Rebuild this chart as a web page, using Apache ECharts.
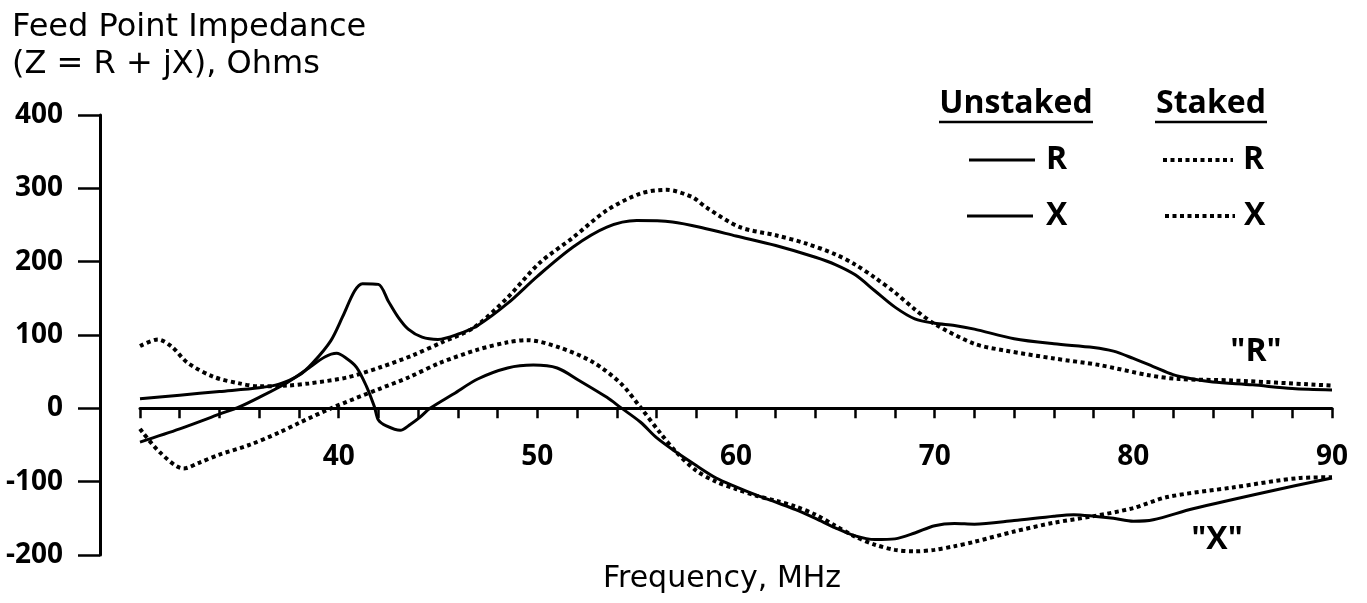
<!DOCTYPE html>
<html>
<head>
<meta charset="utf-8">
<script src="https://cdn.jsdelivr.net/npm/echarts@6/dist/echarts.min.js"></script>
<style>
  html, body { margin: 0; padding: 0; background: #fff; }
  #chart { width: 1367px; height: 603px; }
</style>
</head>
<body>
<div id="chart"></div>
<script>
// Feed point impedance (R and X) of the antenna, with and without ground stakes.
// Each series: [frequency MHz, ohms]
const unstakedR = [
  [30, 13], [32, 18], [34, 23], [36, 28], [37, 33], [38, 45], [38.7, 62], [39.6, 92],
  [40.2, 125], [40.8, 160], [41.2, 170], [42, 169], [42.5, 146], [43, 124], [43.5, 108],
  [44.2, 97], [45, 94], [46, 101], [47, 113], [48.5, 143], [50, 180], [51.8, 220],
  [53.5, 247], [55, 256], [56.8, 254], [58.5, 245], [60, 235], [62, 222], [64, 206],
  [65, 196], [66, 182], [67, 160], [68, 138], [69, 122], [70, 116], [71, 113], [72, 108],
  [74, 95], [76, 88], [78, 83], [79, 78], [80, 68], [81, 57], [82, 46], [83, 40],
  [84, 36], [86, 32], [88, 27], [90, 25]
];
const stakedR = [
  [30, 85], [30.9, 94], [31.6, 84], [32.4, 62], [33.7, 43], [35, 34], [36, 30], [37.4, 31],
  [38.5, 34], [40.4, 42], [42.1, 56], [43.7, 72], [45.2, 90], [46.8, 110], [48.5, 151],
  [50.1, 198], [51.8, 233], [53.5, 270], [55.2, 293], [56.5, 298], [57.8, 288], [58.5, 274],
  [60.2, 247], [62, 236], [63.5, 225], [65, 210], [66, 196], [67, 178], [68, 158],
  [69, 135], [70, 115], [72, 88], [73.5, 79], [76, 68], [78.3, 59], [80.8, 45], [82.3, 40],
  [85, 38], [90, 31]
];
const unstakedX = [
  [30, -46], [32, -28], [34, -8], [35, 2], [36, 15], [37.4, 35], [38.5, 55], [39.3, 70],
  [39.9, 75], [40.4, 68], [40.9, 56], [41.4, 30], [41.8, 2], [42, -16], [42.4, -24],
  [43.1, -30], [43.6, -22], [44.1, -12], [44.6, 0], [45.8, 20], [47, 40], [48.5, 55],
  [49.8, 59], [51, 55], [52.1, 38], [53.5, 15], [54.2, 1], [55.2, -19], [56, -40],
  [57, -60], [58, -78], [59, -95], [60, -107], [61, -118], [62, -128], [63, -138],
  [64, -150], [65, -163], [66, -174], [67, -179], [68, -178], [69, -170], [70, -160],
  [71, -157], [72, -158], [74, -153], [76, -147], [77, -145], [78, -147], [79, -150],
  [80, -154], [81, -152], [83, -137], [86.7, -114], [90, -95]
];
const stakedX = [
  [30, -28], [31, -60], [32.2, -82], [33, -74], [34, -63], [35.5, -50], [37, -33],
  [38, -20], [39.7, 1], [42, 26], [43.5, 42], [45.1, 62], [47, 80], [48.5, 90],
  [49.5, 93], [51.1, 83], [52.8, 63], [54.2, 34], [55.2, 1], [56.2, -34], [57, -60],
  [58, -85], [59, -100], [60, -110], [61, -119], [62, -126], [63, -134], [64, -145],
  [65, -160], [66, -175], [67, -186], [68, -193], [69, -195], [70, -193], [71, -188],
  [72, -182], [74, -168], [76, -156], [78, -147], [80, -136], [81.7, -121], [85, -108],
  [88.4, -95], [90, -94]
];
const xLabels = [40, 50, 60, 70, 80, 90];
const yTicks = [-200, -100, 0, 100, 200, 300, 400];

const INK = '#000';
const DOTS = [4, 3.5];
const labelFont = '"Open Sans", "Liberation Sans", sans-serif';
const plainFont = '"DejaVu Sans", sans-serif';

// plot area
const GRID = { left: 140, right: 35, top: 115, bottom: 48 };
const plotH = 603 - GRID.top - GRID.bottom;
const yMin = yTicks[0], yMax = yTicks[yTicks.length - 1];
// the frequency axis sits on the zero line
const zeroLift = plotH * (0 - yMin) / (yMax - yMin);

function curve(name, data, dotted) {
  return {
    name: name,
    type: 'line',
    data: data,
    smooth: 0.3,
    symbol: 'none',
    silent: true,
    lineStyle: {
      color: INK,
      width: dotted ? 4 : 3,
      type: dotted ? DOTS : 'solid',
      cap: 'butt'
    },
    z: dotted ? 3 : 4
  };
}

const chart = echarts.init(document.getElementById('chart'), null, { renderer: 'canvas' });

chart.setOption({
  backgroundColor: '#fff',
  animation: false,
  grid: Object.assign({ containLabel: false, outerBoundsMode: 'none' }, GRID),
  xAxis: {
    type: 'value',
    min: 30,
    max: 90,
    interval: 2,
    position: 'bottom',
    offset: -zeroLift,
    axisLine: { onZero: false, lineStyle: { color: INK, width: 3 } },
    axisTick: { show: true, length: 10, lineStyle: { color: INK, width: 2.5 } },
    axisLabel: {
      margin: 35,
      color: INK,
      fontFamily: labelFont,
      fontWeight: 700,
      fontSize: 28,
      formatter: v => (xLabels.indexOf(v) >= 0 ? String(v) : '')
    },
    splitLine: { show: false }
  },
  yAxis: {
    type: 'value',
    min: yMin,
    max: yMax,
    interval: 100,
    offset: 40,
    axisLine: { show: true, onZero: false, lineStyle: { color: INK, width: 3 } },
    axisTick: { show: true, length: 22, lineStyle: { color: INK, width: 2.5 } },
    axisLabel: {
      margin: 37,
      color: INK,
      fontFamily: labelFont,
      fontWeight: 700,
      fontSize: 28
    },
    splitLine: { show: false }
  },
  series: [
    curve('Unstaked R', unstakedR, false),
    curve('Staked R', stakedR, true),
    curve('Unstaked X', unstakedX, false),
    curve('Staked X', stakedX, true)
  ],
  graphic: [
    // axis titles
    { type: 'text', left: 12, top: 12, style: { text: 'Feed Point Impedance', font: '32px ' + plainFont, fill: INK } },
    { type: 'text', left: 12, top: 49, style: { text: '(Z = R + jX), Ohms', font: '32px ' + plainFont, fill: INK } },
    { type: 'text', x: 722, y: 579, style: { text: 'Frequency, MHz', font: '30px ' + plainFont, fill: INK, align: 'center', verticalAlign: 'middle' } },

    // legend block
    { type: 'text', x: 1016, y: 104, style: { text: 'Unstaked', font: '700 32px ' + labelFont, fill: INK, align: 'center', verticalAlign: 'middle' } },
    { type: 'line', shape: { x1: 939, y1: 122, x2: 1093, y2: 122 }, style: { stroke: INK, lineWidth: 2.5 } },
    { type: 'text', x: 1211, y: 104, style: { text: 'Staked', font: '700 32px ' + labelFont, fill: INK, align: 'center', verticalAlign: 'middle' } },
    { type: 'line', shape: { x1: 1155, y1: 122, x2: 1267, y2: 122 }, style: { stroke: INK, lineWidth: 2.5 } },

    { type: 'line', shape: { x1: 969, y1: 160, x2: 1035, y2: 160 }, style: { stroke: INK, lineWidth: 3 } },
    { type: 'text', x: 1046, y: 160, style: { text: 'R', font: '700 32px ' + labelFont, fill: INK, verticalAlign: 'middle' } },
    { type: 'line', shape: { x1: 967, y1: 216, x2: 1033, y2: 216 }, style: { stroke: INK, lineWidth: 3 } },
    { type: 'text', x: 1046, y: 216, style: { text: 'X', font: '700 32px ' + labelFont, fill: INK, verticalAlign: 'middle' } },

    { type: 'line', shape: { x1: 1163, y1: 160, x2: 1233, y2: 160 }, style: { stroke: INK, lineWidth: 4, lineDash: DOTS } },
    { type: 'text', x: 1243, y: 160, style: { text: 'R', font: '700 32px ' + labelFont, fill: INK, verticalAlign: 'middle' } },
    { type: 'line', shape: { x1: 1165, y1: 216, x2: 1235, y2: 216 }, style: { stroke: INK, lineWidth: 4, lineDash: DOTS } },
    { type: 'text', x: 1244, y: 216, style: { text: 'X', font: '700 32px ' + labelFont, fill: INK, verticalAlign: 'middle' } },

    // curve family tags
    { type: 'text', x: 1256, y: 352, style: { text: '"R"', font: '700 32px ' + labelFont, fill: INK, align: 'center', verticalAlign: 'middle' } },
    { type: 'text', x: 1217, y: 540, style: { text: '"X"', font: '700 32px ' + labelFont, fill: INK, align: 'center', verticalAlign: 'middle' } }
  ]
});
</script>
</body>
</html>
